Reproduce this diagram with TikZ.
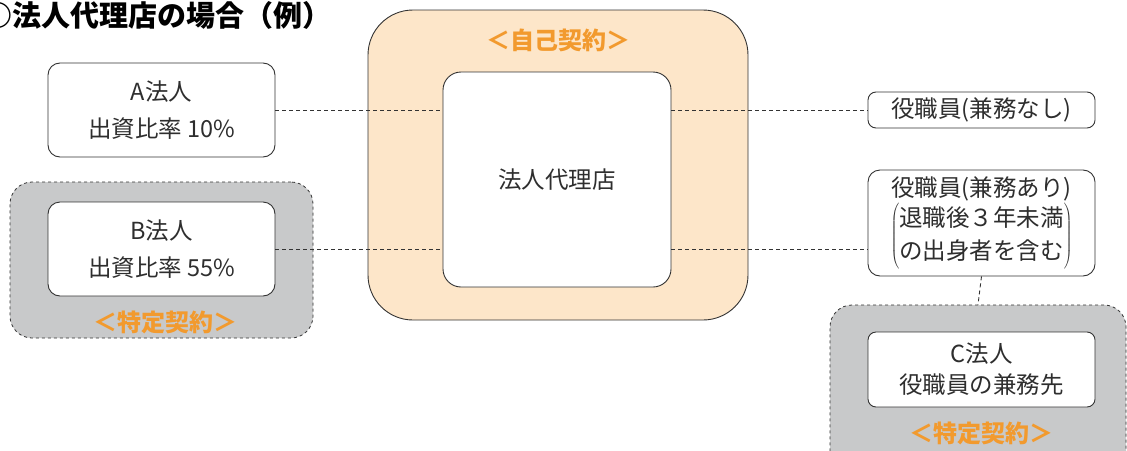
\documentclass[tikz,border=0pt]{standalone}
\usepackage{fontspec}
\setmainfont{Noto Sans CJK JP}
\usetikzlibrary{calc}
\definecolor{line}{HTML}{333333}
\definecolor{orangetext}{HTML}{F29A2E}
\definecolor{orangefill}{HTML}{FDE6C9}
\definecolor{grayfill}{HTML}{C8C9CA}

\begin{document}
\begin{tikzpicture}[
        x=1pt, y=-1pt,
        box/.style={draw=line,fill=white,line width=0.9pt,rounded corners=12pt,align=center,inner sep=0pt,
            font=\fontsize{23.5}{37}\selectfont,text=black!82},
        group/.style={draw=line,fill=grayfill,line width=0.8pt,dashed,rounded corners=22pt,inner sep=0pt},
        link/.style={draw=line,line width=0.9pt,dash pattern=on 4pt off 3pt},
        contract/.style={text=orangetext,font=\fontsize{24}{24}\selectfont\bfseries,inner sep=0pt}
    ]
        \useasboundingbox (0,0) rectangle (1127,450);
        \node[anchor=base west,inner sep=0pt,font=\fontsize{29}{29}\selectfont\bfseries] (title) at (-17,26) {○法人代理店の場合（例）};

        % groups
        \node[draw=line,fill=orangefill,line width=0.9pt,rounded corners=45pt,minimum width=380pt,minimum height=310pt] (self) at (558,165) {};
        \node[group,minimum width=303pt,minimum height=156pt] (bgroup) at (161.5,260) {};
        \node[group,minimum width=296pt,minimum height=170pt] (cgroup) at (978,390) {};

        \node[contract] (selflabel) at (558,40) {＜自己契約＞};
        \node[contract] (blabel) at (165,322) {＜特定契約＞};
        \node[contract] (clabel) at (981,433) {＜特定契約＞};

        % boxes
        \node[box,rounded corners=18pt,minimum width=228pt,minimum height=215pt] (agency) at (557,179.5) {法人代理店};
        \node[box,minimum width=227pt,minimum height=94pt] (a) at (161.5,110) {A法人\\出資比率 10\%};
        \node[box,minimum width=227pt,minimum height=94pt] (b) at (161.5,249) {B法人\\出資比率 55\%};
        \node[box,rounded corners=8pt,minimum width=227pt,minimum height=36pt] (staff) at (981.5,110) {役職員(兼務なし)};
        \node[box,minimum width=227pt,minimum height=106pt,font=\fontsize{23.5}{33}\selectfont] (staffx) at (981.5,223)
            {役職員(兼務あり)\\[1pt]$\left(\begin{tabular}{@{}c@{}}退職後３年未満\\の出身者を含む\end{tabular}\right)$};
        \node[box,rounded corners=8pt,minimum width=227pt,minimum height=75pt,font=\fontsize{23.5}{31}\selectfont] (c) at (981.5,369.5) {C法人\\役職員の兼務先};

        \draw[link] (a.east) -- (agency.west |- a.east);
        \draw[link] (b.east) -- (agency.west |- b.east);
        \draw[link] (agency.east |- staff.west) -- (staff.west);
        \draw[link] (agency.east |- b.east) -- (staffx.west |- b.east);
        \draw[link] (staffx.south) -- (cgroup.north);
    \end{tikzpicture}
\end{document}
